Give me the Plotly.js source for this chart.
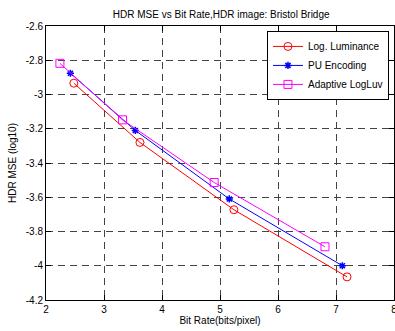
<!DOCTYPE html>
<html>
<head>
<meta charset="utf-8">
<script src="https://cdn.plot.ly/plotly-3.0.1.min.js"></script>
<style>html,body{margin:0;padding:0;background:#fff;}#chart{width:395px;height:331px;}</style>
</head>
<body>
<div id="chart"></div>
<script>
const seriesNames = ["Log. Luminance", "PU Encoding", "Adaptive LogLuv"];
const logLumX = [2.48, 3.62, 5.24, 7.19];
const logLumY = [-2.934, -3.28, -3.673, -4.065];
const puX = [2.42, 3.54, 5.16, 7.11];
const puY = [-2.876, -3.21, -3.61, -4.0];
const adaptX = [2.24, 3.32, 4.90, 6.81];
const adaptY = [-2.818, -3.148, -3.514, -3.889];
const xTicks = [2, 3, 4, 5, 6, 7, 8];
const yTicks = [-4.2, -4, -3.8, -3.6, -3.4, -3.2, -3, -2.8, -2.6];

const font = {family: "Liberation Sans, Arial, sans-serif", size: 10, color: "#000"};
const traces = [
  {x: logLumX, y: logLumY, name: seriesNames[0], mode: "lines+markers",
   line: {color: "#ff0000", width: 1}, marker: {symbol: "circle-open", size: 8, color: "#ff0000", line: {width: 1}}},
  {x: puX, y: puY, name: seriesNames[1], mode: "lines+markers",
   line: {color: "#0000ff", width: 1}, marker: {symbol: "asterisk-open", size: 6, color: "#0000ff", line: {width: 1.5, color: "#0000ff"}}},
  {x: adaptX, y: adaptY, name: seriesNames[2], mode: "lines+markers",
   line: {color: "#ff00ff", width: 1}, marker: {symbol: "square-open", size: 8, color: "#ff00ff", line: {width: 1}}}
];
const axisCommon = {
  showline: true, mirror: "ticks", linecolor: "#000", linewidth: 1,
  ticks: "inside", ticklen: 5, tickcolor: "#000",
  showgrid: true, gridcolor: "#444", griddash: "7px,5px", gridwidth: 1,
  zeroline: false, tickfont: font, ticklabeloverflow: "allow"
};
const layout = {
  width: 395, height: 331,
  margin: {l: 45.5, r: 1, t: 26, b: 31},
  paper_bgcolor: "#fff", plot_bgcolor: "#fff",
  font: font,
  title: {text: "HDR MSE vs Bit Rate,HDR image: Bristol Bridge", font: {family: font.family, size: 10, color: "#000"}, x: 0.56, xanchor: "center", y: 0.957, yanchor: "middle"},
  xaxis: Object.assign({}, axisCommon, {range: [2, 8], tickvals: xTicks, ticktext: xTicks.map(String),
    title: {text: "Bit Rate(bits/pixel)", font: font, standoff: 2}}),
  yaxis: Object.assign({}, axisCommon, {range: [-4.2, -2.6], tickvals: yTicks, ticktext: yTicks.map(String),
    title: {text: "HDR MSE (log10)", font: font, standoff: 7}}),
  showlegend: true,
  legend: {x: 0.635, y: 0.982, xanchor: "left", yanchor: "top", bgcolor: "#fff", bordercolor: "#000", borderwidth: 1,
    font: font, tracegroupgap: 0, itemwidth: 30}
};
Plotly.newPlot("chart", traces, layout, {displayModeBar: false, staticPlot: true});
</script>
</body>
</html>
